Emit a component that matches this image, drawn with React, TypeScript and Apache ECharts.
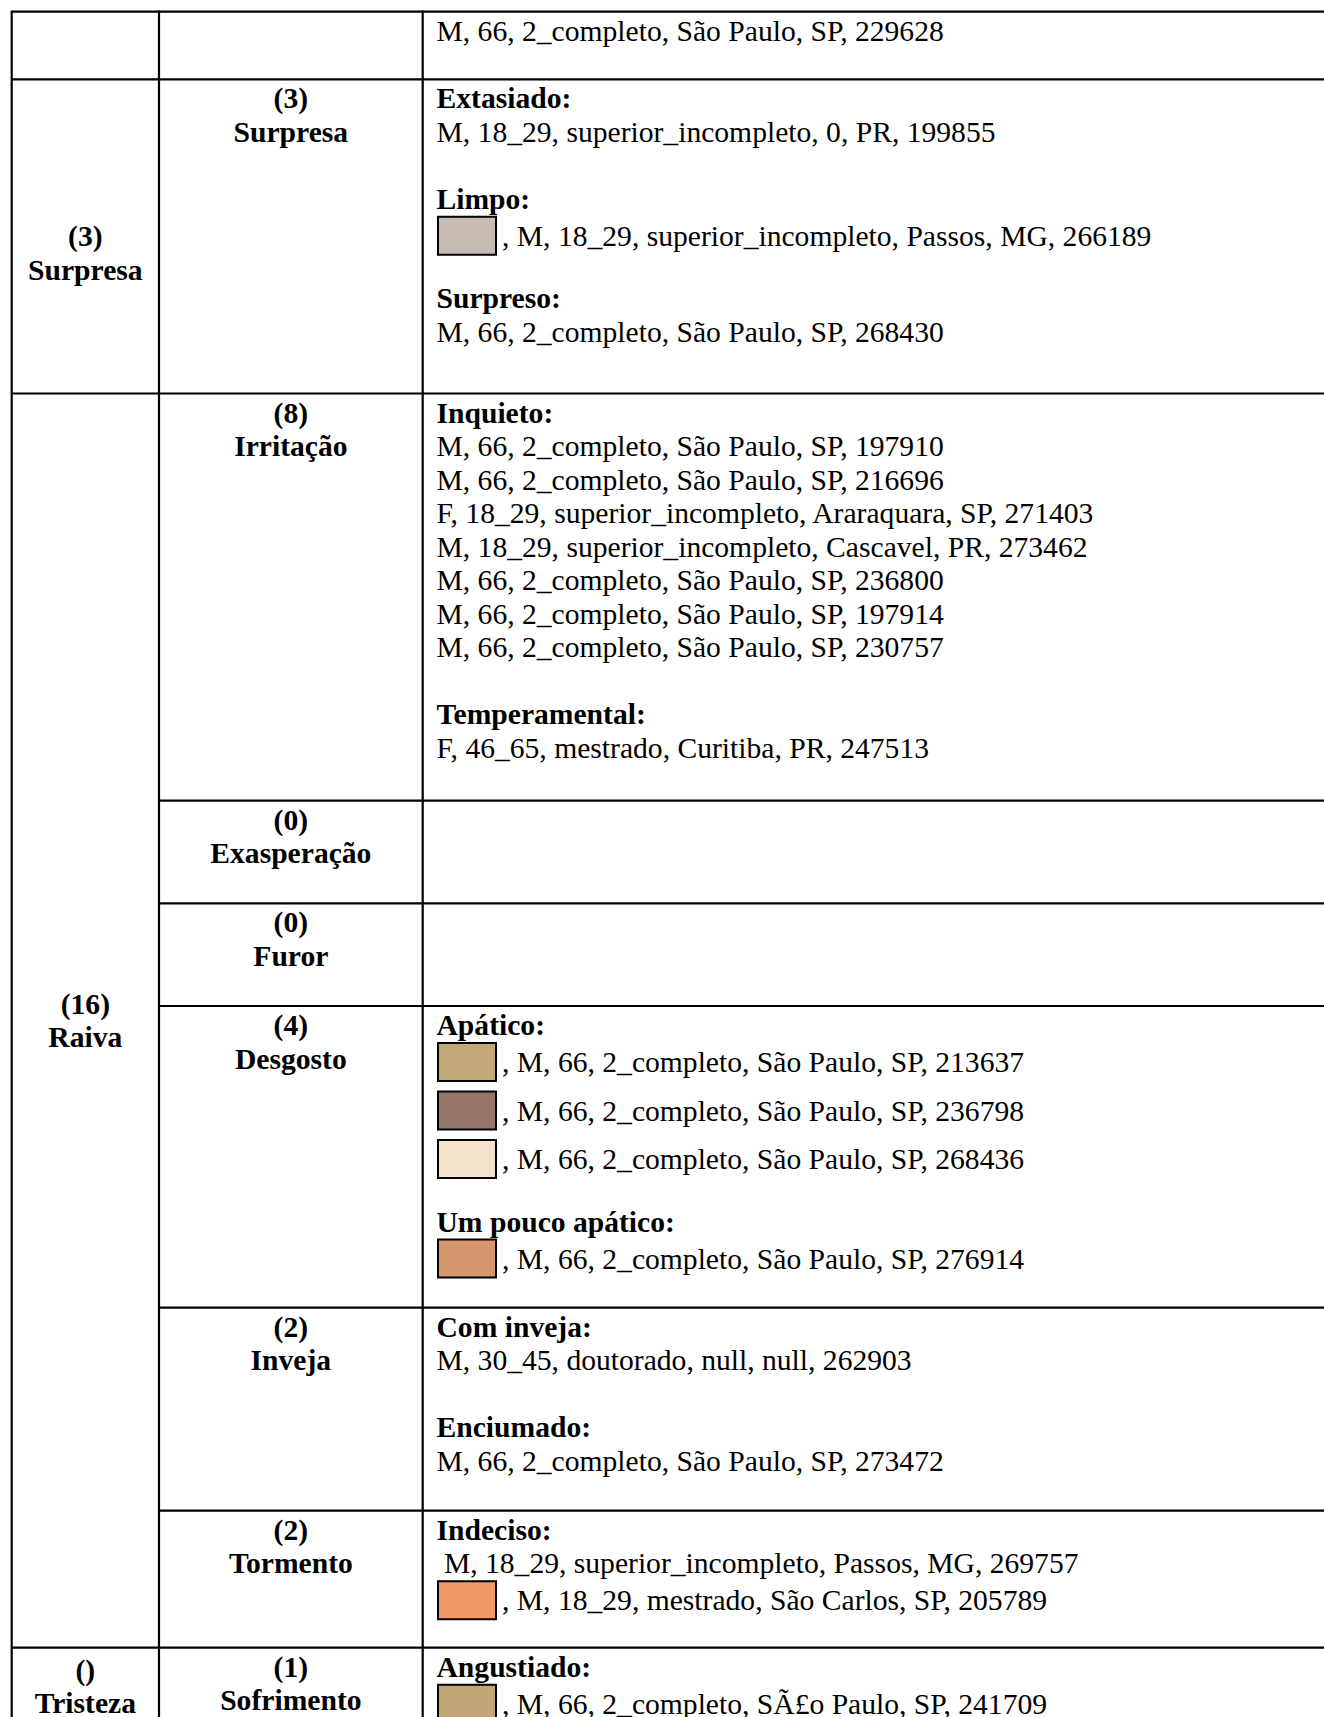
import React, { useEffect, useRef } from "react";
import * as echarts from "echarts";

// ---------------- data ----------------
type Entry = { text: string; color?: string };
type Group = { title: string; entries: Entry[] };

// first-level emotions (left column); an empty string is an empty paragraph
const parentLabelLines: string[][] = [
  [],
  ["", "(3)", "Surpresa"],
  ["(16)", "Raiva"],
  ["()", "Tristeza"],
];
// which sub-rows each first-level emotion spans [from, to]
const parentSpans: [number, number][] = [
  [0, 0],
  [1, 1],
  [2, 7],
  [8, 8],
];

// second-level emotions (middle column)
const subCounts = ["", "3", "8", "0", "0", "4", "2", "2", "1"];
const subNames = ["", "Surpresa", "Irritação", "Exasperação", "Furor", "Desgosto", "Inveja", "Tormento", "Sofrimento"];

// answers (right column)
const topRowCell: Group[] = [
  { title: "", entries: [{ text: "M, 66, 2_completo, São Paulo, SP, 229628" }] },
];
const surpresaCell: Group[] = [
  { title: "Extasiado:", entries: [{ text: "M, 18_29, superior_incompleto, 0, PR, 199855" }] },
  { title: "Limpo:", entries: [{ text: ", M, 18_29, superior_incompleto, Passos, MG, 266189", color: "#C8B9B1" }] },
  { title: "Surpreso:", entries: [{ text: "M, 66, 2_completo, São Paulo, SP, 268430" }] },
];
const irritacaoCell: Group[] = [
  {
    title: "Inquieto:",
    entries: [
      { text: "M, 66, 2_completo, São Paulo, SP, 197910" },
      { text: "M, 66, 2_completo, São Paulo, SP, 216696" },
      { text: "F, 18_29, superior_incompleto, Araraquara, SP, 271403" },
      { text: "M, 18_29, superior_incompleto, Cascavel, PR, 273462" },
      { text: "M, 66, 2_completo, São Paulo, SP, 236800" },
      { text: "M, 66, 2_completo, São Paulo, SP, 197914" },
      { text: "M, 66, 2_completo, São Paulo, SP, 230757" },
    ],
  },
  { title: "Temperamental:", entries: [{ text: "F, 46_65, mestrado, Curitiba, PR, 247513" }] },
];
const exasperacaoCell: Group[] = [];
const furorCell: Group[] = [];
const desgostoCell: Group[] = [
  {
    title: "Apático:",
    entries: [
      { text: ", M, 66, 2_completo, São Paulo, SP, 213637", color: "#C2A978" },
      { text: ", M, 66, 2_completo, São Paulo, SP, 236798", color: "#947668" },
      { text: ", M, 66, 2_completo, São Paulo, SP, 268436", color: "#F3E3CB" },
    ],
  },
  { title: "Um pouco apático:", entries: [{ text: ", M, 66, 2_completo, São Paulo, SP, 276914", color: "#D6976E" }] },
];
const invejaCell: Group[] = [
  { title: "Com inveja:", entries: [{ text: "M, 30_45, doutorado, null, null, 262903" }] },
  { title: "Enciumado:", entries: [{ text: "M, 66, 2_completo, São Paulo, SP, 273472" }] },
];
const tormentoCell: Group[] = [
  {
    title: "Indeciso:",
    entries: [
      { text: "\u00A0M, 18_29, superior_incompleto, Passos, MG, 269757" },
      { text: ", M, 18_29, mestrado, São Carlos, SP, 205789", color: "#F19A68" },
    ],
  },
];
const sofrimentoCell: Group[] = [
  { title: "Angustiado:", entries: [{ text: ", M, 66, 2_completo, SÃ£o Paulo, SP, 241709", color: "#BFA777" }] },
];
const answerCells: Group[][] = [
  topRowCell,
  surpresaCell,
  irritacaoCell,
  exasperacaoCell,
  furorCell,
  desgostoCell,
  invejaCell,
  tormentoCell,
  sofrimentoCell,
];

// ---------------- layout ----------------
const W = 1324;
const H = 1717;
const X0 = 11.7;
const X1 = 159;
const X2 = 422.7;
const ROW_Y = [11.7, 79.3, 393.5, 800.7, 903.3, 1006, 1307.7, 1510.7, 1647.7, 1725];
const FS = 29.6;
const FONT_FAMILY = '"Liberation Serif", "Times New Roman", serif';
const FIRST = 19;
const LINE = 33.5;
const H_TO_S = 37;
const S_TO_S = 48.5;
const GAP_T = 67;
const GAP_S = 62.5;
const TEXT_X = 436.5;
const SW_X = 437;
const SW_W = 60;
const SW_H = 40;
const SW_TEXT_X = 502;
const LW = 2.2;

function font(bold: boolean) {
  return `${bold ? "bold " : ""}${FS}px ${FONT_FAMILY}`;
}

function textEl(text: string, x: number, y: number, bold: boolean, align: string) {
  return {
    type: "text",
    x,
    y,
    silent: true,
    style: {
      text,
      font: font(bold),
      fill: "#000",
      textAlign: align,
      textVerticalAlign: "middle",
    },
  };
}

function lineEl(x1: number, y1: number, x2: number, y2: number) {
  return {
    type: "line",
    silent: true,
    shape: { x1, y1, x2, y2 },
    style: { stroke: "#000", lineWidth: LW },
  };
}

function layoutCell(groups: Group[], top: number) {
  const out: any[] = [];
  let y = top + FIRST;
  let prev: string | null = null;
  groups.forEach((g) => {
    if (g.title) {
      if (prev) y += prev === "s" ? GAP_S : GAP_T;
      out.push(textEl(g.title, TEXT_X, y, true, "left"));
      prev = "h";
    }
    g.entries.forEach((e) => {
      const kind = e.color ? "s" : "t";
      if (prev) {
        if (kind === "s") y += prev === "s" ? S_TO_S : H_TO_S;
        else y += prev === "s" ? S_TO_S : LINE;
      }
      if (e.color) {
        out.push({
          type: "rect",
          silent: true,
          shape: { x: SW_X + 1, y: y - 20 + 1, width: SW_W - 2, height: SW_H - 2 },
          style: { fill: e.color, stroke: "#000", lineWidth: 2 },
        });
        out.push(textEl(e.text, SW_TEXT_X, y, false, "left"));
      } else {
        out.push(textEl(e.text, TEXT_X, y, false, "left"));
      }
      prev = kind;
    });
  });
  return out;
}

function buildElements() {
  const els: any[] = [];
  // horizontal rules
  const parentStarts = new Set(parentSpans.map((s) => s[0]));
  for (let i = 0; i < ROW_Y.length - 1; i++) {
    const from = parentStarts.has(i) ? X0 : X1;
    els.push(lineEl(from, ROW_Y[i], W + 5, ROW_Y[i]));
  }
  // vertical rules
  [X0, X1, X2].forEach((x) => els.push(lineEl(x, ROW_Y[0] - LW / 2, x, H + 10)));

  // left column: centered vertically in its span
  parentSpans.forEach((span, pi) => {
    const lines = parentLabelLines[pi];
    if (!lines.length) return;
    const top = ROW_Y[span[0]];
    const bottom = ROW_Y[span[1] + 1];
    const mid = (top + bottom) / 2;
    const start = mid - ((lines.length - 1) * LINE) / 2;
    lines.forEach((t, li) => {
      if (t) els.push(textEl(t, (X0 + X1) / 2, start + li * LINE, true, "center"));
    });
  });

  // middle column: top aligned
  subNames.forEach((name, i) => {
    if (!name) return;
    const top = ROW_Y[i];
    els.push(textEl(`(${subCounts[i]})`, (X1 + X2) / 2, top + FIRST, true, "center"));
    els.push(textEl(name, (X1 + X2) / 2, top + FIRST + LINE, true, "center"));
  });

  // right column
  answerCells.forEach((cell, i) => {
    els.push(...layoutCell(cell, ROW_Y[i]));
  });
  return els;
}

export default function App() {
  const ref = useRef<HTMLDivElement>(null);
  useEffect(() => {
    if (!ref.current) return;
    const chart = echarts.init(ref.current, null, { renderer: "svg" });
    chart.setOption({
      animation: false,
      backgroundColor: "#fff",
      graphic: { elements: buildElements() },
    });
    return () => chart.dispose();
  }, []);
  return (
    <div
      ref={ref}
      style={{ position: "absolute", left: 0, top: 0, width: W, height: H, background: "#fff" }}
    />
  );
}
